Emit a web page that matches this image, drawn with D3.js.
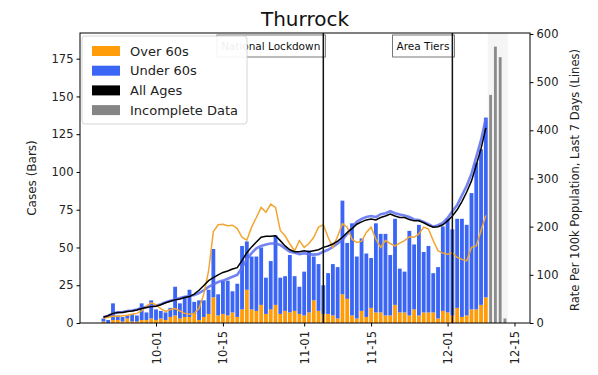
<!DOCTYPE html>
<html><head><meta charset="utf-8">
<script src="https://cdn.jsdelivr.net/npm/d3@7"></script>
<style>body{margin:0;background:#fff}text{font-family:"DejaVu Sans",sans-serif}</style>
</head><body><svg id="c" width="598" height="375"></svg>
<script>
// ---- data ----
const startDate = "2020-09-20"; // first day of daily series, consecutive days follow
const casesTotal = [3,2,13,5,4,5,6,5,13,7,15,
  9,8,7,10,24,13,18,22,14,15,
  15,22,49,19,28,28,21,26,51,54,
  44,44,50,30,41,58,30,31,45,31,
  24,34,48,44,39,25,33,39,37,81,
  53,66,44,56,46,43,66,59,59,45,
  69,36,34,61,52,65,47,51,33,37,
  64,69,62,69,69,65,86,106,115,136];
const casesOver60 = [1,0,2,2,1,3,1,1,2,2,3,
  2,3,2,4,5,3,4,4,6,2,
  4,6,17,5,6,5,7,4,9,22,
  9,8,12,6,9,12,6,8,7,8,
  6,5,7,15,8,6,6,5,3,19,
  16,5,3,8,4,10,7,7,5,5,
  12,7,7,5,9,5,7,7,7,3,
  8,7,5,10,4,5,9,9,12,17];
const incompleteDates = ["2020-12-10","2020-12-11","2020-12-12","2020-12-13"];
const incompleteCases = [151,183,176,3];
const rateAll = [12,15,20,22,22,24,25,27,30,32,34,
  35,38,42,45,48,50,53,55,60,68,
  78,88,94,100,105,108,112,115,130,146,
  158,168,178,180,180,181,171,160,152,148,
  148,150,148,150,152,157,160,164,170,178,
  188,196,205,210,214,216,214,219,222,226,
  222,219,219,215,212,212,208,203,199,200,
  204,212,222,235,252,272,295,328,362,405];
const rateUnder60 = [12,15,20,22,23,25,26,28,31,33,35,
  36,39,43,46,49,52,54,56,58,62,
  68,75,80,85,88,92,96,100,115,132,
  145,155,160,163,165,165,162,155,148,146,
  143,145,143,142,143,148,152,158,165,173,
  185,198,210,216,220,222,220,226,228,232,
  228,225,223,220,215,214,210,205,200,203,
  208,218,232,245,265,285,310,345,380,425];
const rateOver60 = [10,12,14,14,15,16,18,20,25,35,42,
  38,30,24,28,30,25,20,18,20,30,
  60,108,190,204,205,202,203,196,178,172,
  199,219,240,230,247,240,192,181,164,150,
  171,157,165,178,199,204,178,157,180,206,
  199,174,167,170,188,199,174,157,171,165,
  160,166,171,179,178,185,199,195,171,150,
  145,143,146,136,132,129,157,160,192,223];
const leftTicks = [0,25,50,75,100,125,150,175];
const rightTicks = [0,100,200,300,400,500,600];
const xTickDates = ["2020-10-01","2020-10-15","2020-11-01","2020-11-15","2020-12-01","2020-12-15"];
const xTickLabels = ["10-01","10-15","11-01","11-15","12-01","12-15"];
const eventDates = ["2020-11-05","2020-12-02"];
const eventLabels = ["National Lockdown","Area Tiers"];
const legendLabels = ["Over 60s","Under 60s","All Ages","Incomplete Data"];

// ---- layout ----
const L=80, R=530, T=33, B=323;
const colOrange="#ff9c0a", colBlue="#3b66f5", colBlack="#000", colGray="#858585";
const svg=d3.select("#c");
svg.append("rect").attr("width",598).attr("height",375).attr("fill","#fff");
const parse = s=>new Date(s+"T00:00:00Z");
const DAY=864e5;
const start=parse(startDate);
const days = casesTotal.map((_,i)=>new Date(start.getTime()+i*DAY));
const oct1=parse("2020-10-01");
const x=d3.scaleUtc().domain([new Date(oct1.getTime()-15.9*DAY), new Date(oct1.getTime()+78.24*DAY)]).range([L,R]);
const yL=d3.scaleLinear().domain([0,192]).range([B,T]);
const yR=d3.scaleLinear().domain([0,602]).range([B,T]);
const step=x(new Date(oct1.getTime()+DAY))-x(oct1);
const bw=step*0.8;

const g=svg.append("g");
// incomplete band
const incD=incompleteDates.map(parse);
g.append("rect").attr("x",x(new Date(incD[0].getTime()-0.6*DAY))).attr("y",T)
  .attr("width",x(new Date(incD[incD.length-1].getTime()+0.6*DAY))-x(new Date(incD[0].getTime()-0.6*DAY)))
  .attr("height",B-T).attr("fill","#d0d0d0").attr("opacity",0.22);
// bars
days.forEach((d,i)=>{
  const o=casesOver60[i], t=casesTotal[i];
  g.append("rect").attr("x",x(d)-bw/2).attr("width",bw).attr("y",yL(o)).attr("height",yL(0)-yL(o)).attr("fill",colOrange);
  g.append("rect").attr("x",x(d)-bw/2).attr("width",bw).attr("y",yL(t)).attr("height",yL(o)-yL(t)).attr("fill",colBlue);
});
const gw=step*0.6;
incD.forEach((d,i)=>{
  g.append("rect").attr("x",x(d)-gw/2).attr("width",gw).attr("y",yL(incompleteCases[i])).attr("height",yL(0)-yL(incompleteCases[i])).attr("fill","#8c8c8c");
});
// lines
const line=arr=>d3.line().x((d,i)=>x(days[i])).y(d=>yR(d))(arr);
g.append("path").attr("d",line(rateUnder60)).attr("fill","none").attr("stroke","#5c70f0").attr("stroke-width",2.6).attr("opacity",0.85);
g.append("path").attr("d",line(rateOver60)).attr("fill","none").attr("stroke","#f2a531").attr("stroke-width",1.5);
g.append("path").attr("d",line(rateAll)).attr("fill","none").attr("stroke",colBlack).attr("stroke-width",1.5);

// event annotation boxes + lines
eventDates.forEach((s,i)=>{
  const ex=x(parse(s));
  const t=svg.append("text").attr("x",ex-3).attr("y",46).attr("text-anchor","end").attr("dominant-baseline","central")
    .attr("font-size",10.5).attr("fill","#111").text(eventLabels[i]);
  const w=t.node().getComputedTextLength();
  svg.insert("rect",function(){return t.node();}).attr("x",ex-w-7).attr("y",35).attr("width",w+9).attr("height",22)
    .attr("fill","#fff").attr("stroke","#555").attr("stroke-width",0.8);
  svg.append("line").attr("x1",ex).attr("x2",ex).attr("y1",T).attr("y2",B).attr("stroke","#111").attr("stroke-width",1.5);
});

// frame
svg.append("rect").attr("x",L).attr("y",T).attr("width",R-L).attr("height",B-T).attr("fill","none").attr("stroke","#000").attr("stroke-width",1);

// axes
const ax=(sel)=>{sel.select(".domain").remove();sel.selectAll("text").attr("font-size",11.5).attr("fill","#222").attr("font-family","DejaVu Sans");sel.selectAll("line").attr("stroke","#000");};
svg.append("g").attr("transform",`translate(${L},0)`).call(d3.axisLeft(yL).tickValues(leftTicks).tickSize(3.5).tickPadding(3)).call(ax);
svg.append("g").attr("transform",`translate(${R},0)`).call(d3.axisRight(yR).tickValues(rightTicks).tickSize(3.5).tickPadding(3)).call(ax);
const xa=svg.append("g").attr("transform",`translate(0,${B})`).call(d3.axisBottom(x).tickValues(xTickDates.map(parse)).tickFormat((d,i)=>xTickLabels[i]).tickSize(3.5)).call(ax);
xa.selectAll("text").attr("transform","rotate(-90)").attr("text-anchor","end").attr("dy","0.35em").attr("dx",0).attr("x",-8).attr("y",0);

// axis titles
svg.append("text").attr("transform","translate(32,178) rotate(-90)").attr("text-anchor","middle").attr("dominant-baseline","central").attr("font-size",12).attr("fill","#222").text("Cases (Bars)");
svg.append("text").attr("transform","translate(575,180) rotate(-90)").attr("text-anchor","middle").attr("dominant-baseline","central").attr("font-size",11.5).attr("fill","#222").text("Rate Per 100k Population, Last 7 Days (Lines)");
// title
svg.append("text").attr("x",305).attr("y",26).attr("text-anchor","middle").attr("font-size",20).attr("fill","#111").text("Thurrock");

// legend
const lg=svg.append("g");
lg.append("rect").attr("x",82).attr("y",36).attr("width",165).attr("height",88).attr("rx",3).attr("fill","#fff").attr("fill-opacity",0.93).attr("stroke","#ccc").attr("stroke-width",0.8);
const lc=[colOrange,colBlue,colBlack,colGray];
legendLabels.forEach((lab,i)=>{
  const cy=51+i*19.7;
  lg.append("rect").attr("x",92).attr("y",cy-5).attr("width",28).attr("height",10).attr("fill",lc[i]);
  lg.append("text").attr("x",130).attr("y",cy).attr("dominant-baseline","central").attr("font-size",13).attr("fill","#222").text(lab);
});
</script></body></html>
